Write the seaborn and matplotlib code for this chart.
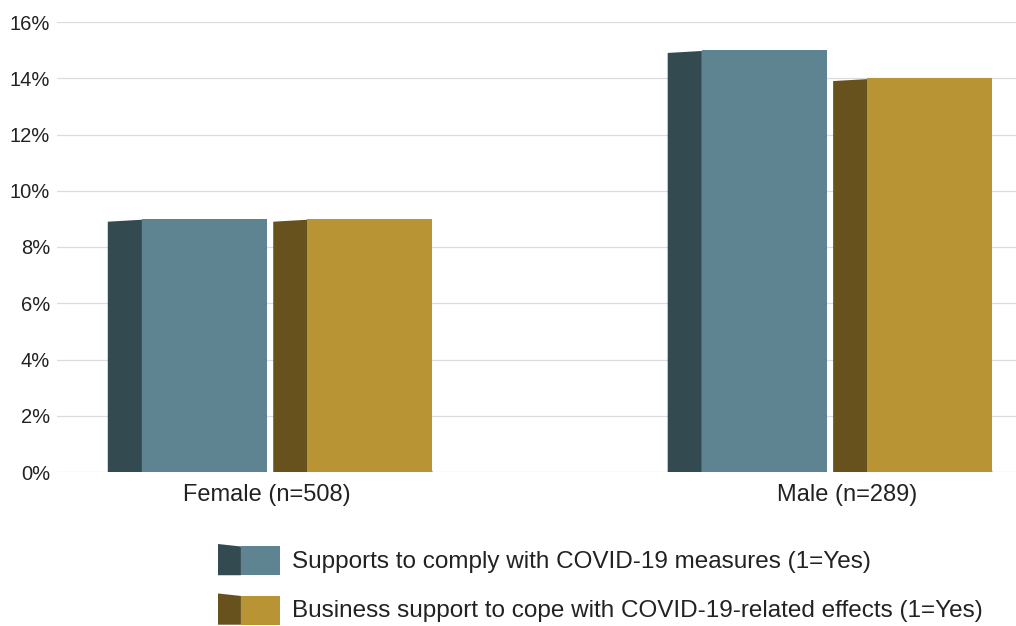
import matplotlib
matplotlib.use("Agg")
import matplotlib.pyplot as plt
import seaborn as sns
import pandas as pd
import numpy as np
from matplotlib.patches import Polygon, Patch
from matplotlib.legend_handler import HandlerBase
from matplotlib.transforms import ScaledTranslation

categories = ["Female (n=508)", "Male (n=289)"]
series = ["Supports to comply with COVID-19 measures (1=Yes)",
          "Business support to cope with COVID-19-related effects (1=Yes)"]
supports_comply = [9.0, 15.0]
business_support = [9.0, 14.0]
yticks = [0, 2, 4, 6, 8, 10, 12, 14, 16]

front_colors = ["#5E8391", "#B99434"]
side_colors = ["#344A51", "#67521E"]
base_colors = ["#2E3F45", "#5A4718"]

df = pd.DataFrame({
    "category": categories * 2,
    "series": [series[0]] * 2 + [series[1]] * 2,
    "value": supports_comply + business_support,
})

sns.set_theme(style="white")
plt.rcParams["font.family"] = ["Liberation Sans", "DejaVu Sans"]

fig = plt.figure(figsize=(10.16, 6.26), dpi=100)
ax = fig.add_axes([57 / 1016, 1 - 472 / 626, (1016 - 57) / 1016, 450 / 626])

sns.barplot(data=df, x="category", y="value", hue="series", order=categories,
            hue_order=series, palette=front_colors, width=0.591, gap=0.245,
            saturation=1, ax=ax, legend=False, edgecolor="none", linewidth=0)

ax.set_ylim(0, 16)
ax.set_xlim(-0.411, 1.3018)
ax.set_yticks(yticks)
ax.set_yticklabels([f"{t}%" for t in yticks], fontsize=14.5, color="#222222")
ax.set_xticks(range(len(categories)))
ax.set_xticklabels(categories, fontsize=17, color="#222222")
ax.tick_params(axis="both", length=0)
ax.tick_params(axis="y", pad=5)
ax.tick_params(axis="x", pad=9)
# shift the first category label slightly left, as in the reference
lbl = ax.get_xticklabels()[0]
lbl.set_transform(lbl.get_transform() + ScaledTranslation(-0.2, 0, fig.dpi_scale_trans))
ax.grid(axis="y", color="#DCDCDC", linewidth=0.9)
ax.set_axisbelow(True)
for s in ax.spines.values():
    s.set_visible(False)
ax.set_xlabel("")
ax.set_ylabel("")

# 3D side faces derived from the bar patches
depth = 0.061
bars = [p for p in ax.patches if p.get_height() > 0]
for p in bars:
    x0 = p.get_x()
    w = p.get_width()
    h = p.get_height()
    fc = p.get_facecolor()
    idx = 0 if np.allclose(fc[:3], matplotlib.colors.to_rgb(front_colors[0]), atol=0.02) else 1
    side = Polygon([(x0 - depth, -0.07), (x0, 0.0), (x0, h - 0.03), (x0 - depth, h - 0.1)],
                   closed=True, facecolor=side_colors[idx], edgecolor="none", zorder=3)
    ax.add_patch(side)
    base = Polygon([(x0 - depth, -0.07), (x0, -0.01), (x0 + w, 0.05), (x0 + w, 0.0), (x0 + w - 0.02, -0.05)],
                   closed=True, facecolor=base_colors[idx], edgecolor="none", zorder=3)
    ax.add_patch(base)
    p.set_zorder(4)


class Box3DHandler(HandlerBase):
    def create_artists(self, legend, orig_handle, xdescent, ydescent, width, height, fontsize, trans):
        idx = orig_handle.idx
        sw = width * 0.37
        top_off = height * 0.08
        side = Polygon([(-xdescent, -ydescent), (-xdescent + sw, -ydescent),
                        (-xdescent + sw, -ydescent + height - top_off),
                        (-xdescent, -ydescent + height)],
                       closed=True, facecolor=side_colors[idx], edgecolor="none", transform=trans)
        front = Polygon([(-xdescent + sw, -ydescent), (-xdescent + width, -ydescent),
                         (-xdescent + width, -ydescent + height - top_off),
                         (-xdescent + sw, -ydescent + height - top_off)],
                        closed=True, facecolor=front_colors[idx], edgecolor="none", transform=trans)
        return [side, front]


handles = []
for i in range(len(series)):
    h = Patch(facecolor=front_colors[i])
    h.idx = i
    handles.append(h)

fig.legend(handles, series, handler_map={Patch: Box3DHandler()},
           loc="upper left", bbox_to_anchor=(218 / 1016, 1 - 544 / 626),
           frameon=False, fontsize=17.5, handlelength=2.55, handleheight=1.6,
           handletextpad=0.5, labelspacing=0.75, borderpad=0, borderaxespad=0,
           labelcolor="#222222")

fig.savefig("out.png", dpi=100)
